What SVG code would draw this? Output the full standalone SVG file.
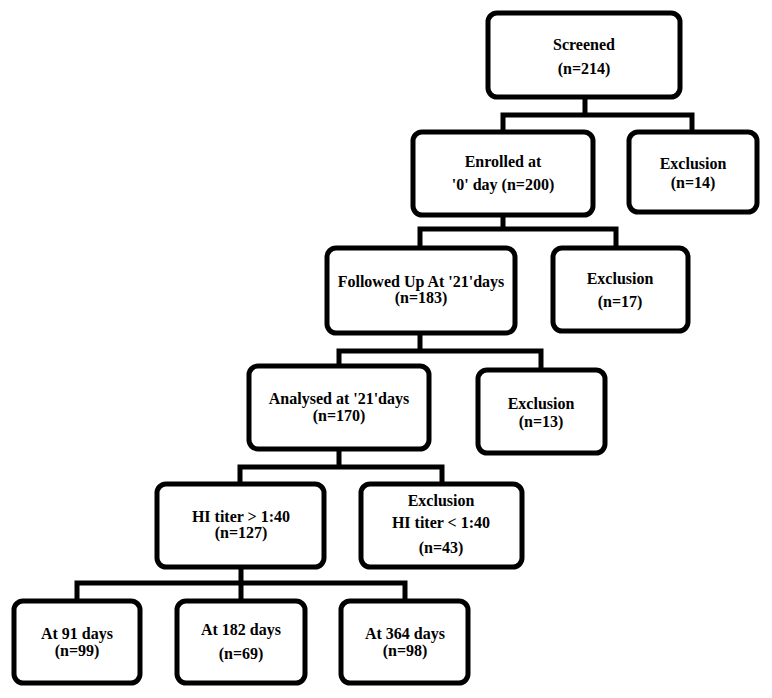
<svg xmlns="http://www.w3.org/2000/svg" width="772" height="698" viewBox="0 0 772 698">
<style>
.box{fill:#fff;stroke:#000;stroke-width:5}
.t{font-family:"Liberation Serif","Times New Roman",serif;font-weight:bold;font-size:16px;fill:#000;text-anchor:middle}
.c{fill:none;stroke:#000;stroke-width:5;stroke-linejoin:miter}
</style>
<rect width="772" height="698" fill="#fff"/>
<g id="connectors">
<path class="c" d="M585 97 V115 M503 132 V115 H692 V132"/>
<path class="c" d="M503 215 V229 M420 248 V229 H616 V248"/>
<path class="c" d="M420 333 V351 M339 366 V351 H541 V370"/>
<path class="c" d="M339 449 V467 M240 484 V467 H442 V484"/>
<path class="c" d="M241 567 V601 M77 601 V583 H405 V601"/>
</g>
<g id="screened"><rect class="box" x="488" y="13" width="192" height="84" rx="9"/><text class="t" x="584" y="50">Screened</text><text class="t" x="584" y="74">(n=214)</text></g>
<g id="enrolled"><rect class="box" x="413" y="132" width="180" height="83" rx="9"/><text class="t" x="503" y="167">Enrolled at</text><text class="t" x="503" y="190">'0' day (n=200)</text></g>
<g id="excl14"><rect class="box" x="629" y="132" width="128" height="80" rx="9"/><text class="t" x="693" y="169">Exclusion</text><text class="t" x="693" y="188">(n=14)</text></g>
<g id="followed"><rect class="box" x="327" y="248" width="188" height="85" rx="9"/><text class="t" x="421" y="287">Followed Up At '21'days</text><text class="t" x="421" y="303">(n=183)</text></g>
<g id="excl17"><rect class="box" x="553" y="248" width="135" height="83" rx="9"/><text class="t" x="620" y="284">Exclusion</text><text class="t" x="620" y="307">(n=17)</text></g>
<g id="analysed"><rect class="box" x="249" y="366" width="180" height="83" rx="9"/><text class="t" x="339" y="404">Analysed at '21'days</text><text class="t" x="339" y="421">(n=170)</text></g>
<g id="excl13"><rect class="box" x="478" y="370" width="127" height="83" rx="9"/><text class="t" x="541" y="409">Exclusion</text><text class="t" x="541" y="427">(n=13)</text></g>
<g id="hi"><rect class="box" x="157" y="484" width="167" height="83" rx="9"/><text class="t" x="241" y="522">HI titer &gt; 1:40</text><text class="t" x="241" y="538">(n=127)</text></g>
<g id="exclhi"><rect class="box" x="361" y="484" width="161" height="83" rx="9"/><text class="t" x="441" y="506">Exclusion</text><text class="t" x="441" y="528">HI titer &lt; 1:40</text><text class="t" x="441" y="553">(n=43)</text></g>
<g id="d91"><rect class="box" x="14" y="601" width="126" height="82" rx="9"/><text class="t" x="77" y="639">At 91 days</text><text class="t" x="77" y="656">(n=99)</text></g>
<g id="d182"><rect class="box" x="177" y="601" width="128" height="82" rx="9"/><text class="t" x="241" y="635">At 182 days</text><text class="t" x="241" y="659">(n=69)</text></g>
<g id="d364"><rect class="box" x="341" y="601" width="127" height="82" rx="9"/><text class="t" x="405" y="639">At 364 days</text><text class="t" x="405" y="656">(n=98)</text></g>
</svg>
